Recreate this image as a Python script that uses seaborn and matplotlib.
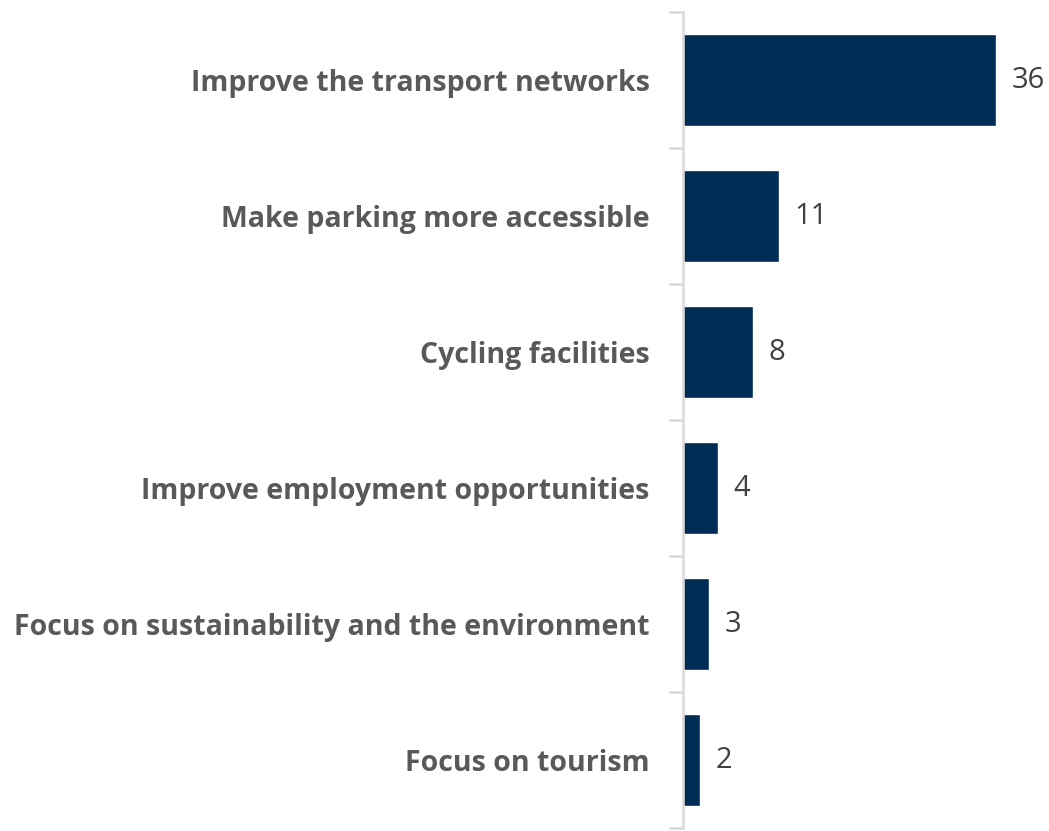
import matplotlib
matplotlib.use("Agg")
import matplotlib.pyplot as plt
import seaborn as sns
import pandas as pd
import numpy as np

categories = [
    "Improve the transport networks",
    "Make parking more accessible",
    "Cycling facilities",
    "Improve employment opportunities",
    "Focus on sustainability and the environment",
    "Focus on tourism",
]
counts = [36, 11, 8, 4, 3, 2]

df = pd.DataFrame({"label": categories, "count": counts})

sns.set_theme(style="white")
plt.rcParams["font.family"] = ["Open Sans", "DejaVu Sans"]

fig = plt.figure(figsize=(10.49, 8.31), dpi=100)
ax = fig.add_axes([683 / 1049, 3 / 831, (1040 - 683) / 1049, (828 - 12) / 831])

sns.barplot(data=df, x="count", y="label", color="#002D56", width=0.67,
            saturation=1, ax=ax)

ax.set_xlim(0, 357 / 8.7)
ax.set_ylim(len(categories) - 0.5, -0.5)

# value labels
for i, v in enumerate(counts):
    ax.text(v + 1.8, i, str(v), va="center", ha="left", fontsize=21,
            color="#404040")

# spines / ticks
for s in ["top", "right", "bottom"]:
    ax.spines[s].set_visible(False)
ax.spines["left"].set_color("#D9D9D9")
ax.spines["left"].set_linewidth(1.8)

ax.set_xticks([])
ax.set_xlabel("")
ax.set_ylabel("")
ax.tick_params(axis="y", which="major", left=False, length=0, pad=24)
ax.set_yticks(np.arange(-0.5, len(categories), 1), minor=True)
ax.tick_params(axis="y", which="minor", left=True, length=10, width=1.8,
               color="#D9D9D9")
for t in ax.get_yticklabels():
    t.set_fontweight("bold")
    t.set_fontsize(20.5)
    t.set_color("#595959")

fig.savefig("out.png", dpi=100)
